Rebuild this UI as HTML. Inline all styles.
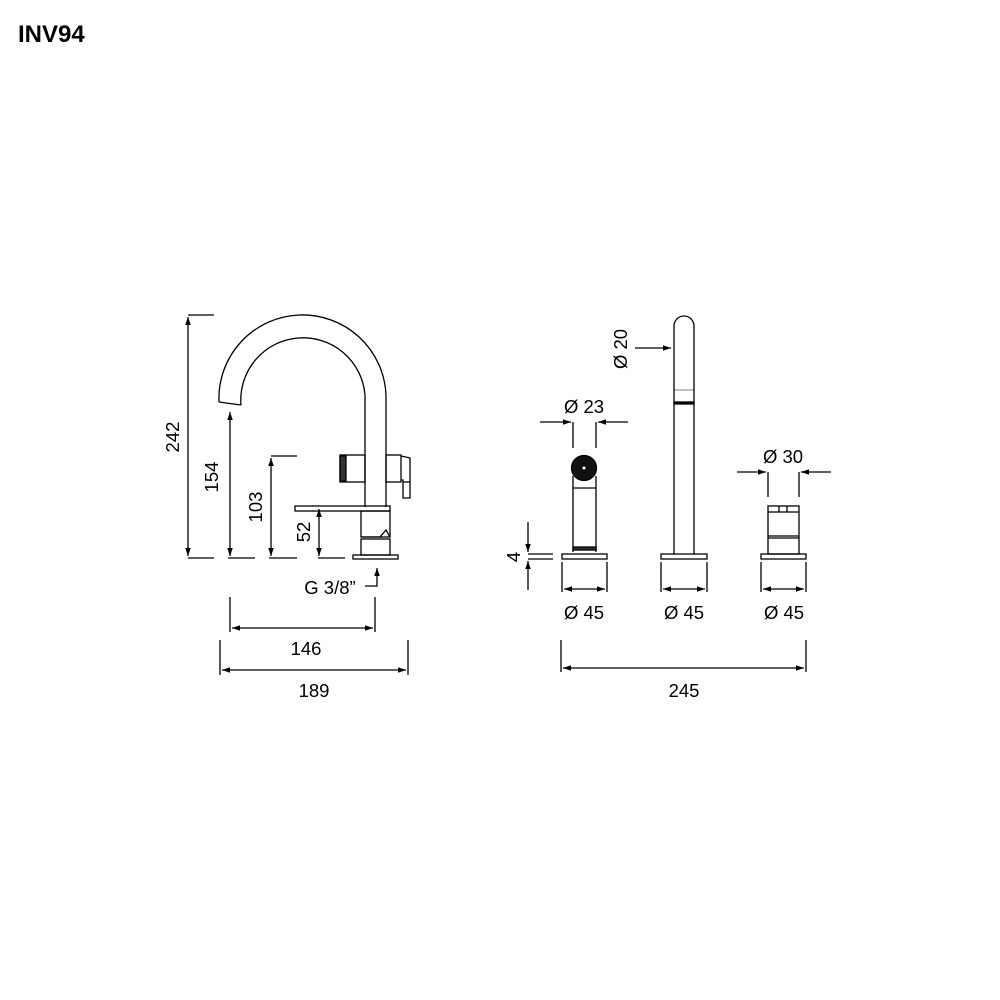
<!DOCTYPE html>
<html><head><meta charset="utf-8"><style>
html,body{margin:0;padding:0;background:#fff}
svg{display:block}
text{font-family:"Liberation Sans",sans-serif;fill:#000}
</style></head><body>
<svg width="1000" height="1000" viewBox="0 0 1000 1000" xmlns="http://www.w3.org/2000/svg">
<defs>
<marker id="a" viewBox="0 0 10 10" refX="10" refY="5" markerWidth="12" markerHeight="8" markerUnits="userSpaceOnUse" orient="auto-start-reverse"><path d="M0,1.5 L10,5 L0,8.5 z" fill="#000"/></marker>
</defs>
<text x="18" y="42" font-size="24" font-weight="bold">INV94</text>
<g stroke="#000" stroke-width="1.3" fill="none">
<path d="M219,402 A83,83 0 0 1 386,395 L386,507"/>
<path d="M241,405 A62,62 0 0 1 365,395 L365,507"/>
<path d="M219,402 L241,405"/>
<rect x="340" y="455" width="25" height="27"/>
<rect x="340" y="456" width="6" height="25" fill="#333"/>
<rect x="386" y="455" width="15" height="27"/>
<path d="M401,456 L410,458 L410,498 L403,498 L403,480 L401,480"/>
<path d="M403,482 L410,482"/>
<rect x="295" y="506" width="95" height="5"/>
<rect x="361" y="511" width="29" height="26"/>
<path d="M361,537 L380,537 L386,530 L390,537"/>
<rect x="361" y="539" width="29" height="16"/>
<rect x="353" y="555" width="45" height="4"/>
<path d="M188,315 L214,315 M188,558 L214,558"/>
<path d="M188,317 L188,556" marker-start="url(#a)" marker-end="url(#a)"/>
<path d="M228,558 L255,558"/>
<path d="M230,412 L230,556" marker-start="url(#a)" marker-end="url(#a)"/>
<path d="M271,456 L297,456 M269,558 L297,558"/>
<path d="M271,458 L271,556" marker-start="url(#a)" marker-end="url(#a)"/>
<path d="M318,558 L345,558"/>
<path d="M319,509 L319,556" marker-start="url(#a)" marker-end="url(#a)"/>
<path d="M365,586 L377,586 L377,568" marker-end="url(#a)"/>
<path d="M230,597 L230,632 M375,597 L375,632"/>
<path d="M232,628 L373,628" marker-start="url(#a)" marker-end="url(#a)"/>
<path d="M220,640 L220,675 M408,640 L408,675"/>
<path d="M222,670 L406,670" marker-start="url(#a)" marker-end="url(#a)"/>
<circle cx="584" cy="468" r="12.5" fill="#111"/>
<circle cx="584" cy="468" r="1.5" fill="#fff" stroke="none"/>
<path d="M573,476 L573,552 M596,476 L596,552 M573,488 L596,488"/>
<rect x="573" y="547" width="23" height="3" fill="#333"/>
<rect x="562" y="554" width="45" height="5"/>
<path d="M573,422 L573,448 M596,422 L596,448"/>
<path d="M540,422 L571,422" marker-end="url(#a)"/>
<path d="M628,422 L598,422" marker-end="url(#a)"/>
<path d="M674,554 L674,326 A10,10 0 0 1 694,326 L694,554"/>
<rect x="674" y="402" width="20" height="2" fill="#000"/>
<path d="M674,390 L694,390" stroke-width="0.5"/>
<rect x="661" y="554" width="46" height="5"/>
<path d="M635,348 L671,348" marker-end="url(#a)"/>
<rect x="768" y="506" width="31" height="48"/>
<path d="M768,512 L799,512 M768,536 L799,536 M768,538 L799,538 M779,506 L779,512 M787,506 L787,512"/>
<rect x="761" y="554" width="45" height="5"/>
<path d="M768,472 L768,497 M799,472 L799,497"/>
<path d="M737,472 L766,472" marker-end="url(#a)"/>
<path d="M831,472 L801,472" marker-end="url(#a)"/>
<path d="M528,554 L553,554 M528,559 L553,559"/>
<path d="M528,522 L528,552" marker-end="url(#a)"/>
<path d="M528,590 L528,561" marker-end="url(#a)"/>
<path d="M562,562 L562,592 M607,562 L607,592 M661,562 L661,592 M707,562 L707,592 M761,562 L761,592 M806,562 L806,592"/>
<path d="M564,589 L605,589" marker-start="url(#a)" marker-end="url(#a)"/>
<path d="M663,589 L705,589" marker-start="url(#a)" marker-end="url(#a)"/>
<path d="M763,589 L804,589" marker-start="url(#a)" marker-end="url(#a)"/>
<path d="M561,640 L561,672 M806,640 L806,672"/>
<path d="M563,668 L804,668" marker-start="url(#a)" marker-end="url(#a)"/>
</g>
<g font-size="18.5">
<text transform="translate(179,437) rotate(-90)" text-anchor="middle">242</text>
<text transform="translate(218,477) rotate(-90)" text-anchor="middle">154</text>
<text transform="translate(262,507) rotate(-90)" text-anchor="middle">103</text>
<text transform="translate(310,532) rotate(-90)" text-anchor="middle">52</text>
<text x="330" y="594" text-anchor="middle">G 3/8”</text>
<text x="306" y="655" text-anchor="middle">146</text>
<text x="314" y="697" text-anchor="middle">189</text>
<text x="584" y="413" text-anchor="middle">Ø 23</text>
<text transform="translate(627,349) rotate(-90)" text-anchor="middle">Ø 20</text>
<text x="783" y="463" text-anchor="middle">Ø 30</text>
<text transform="translate(520,557) rotate(-90)" text-anchor="middle">4</text>
<text x="584" y="619" text-anchor="middle">Ø 45</text>
<text x="684" y="619" text-anchor="middle">Ø 45</text>
<text x="784" y="619" text-anchor="middle">Ø 45</text>
<text x="684" y="697" text-anchor="middle">245</text>
</g>
</svg>
</body></html>
